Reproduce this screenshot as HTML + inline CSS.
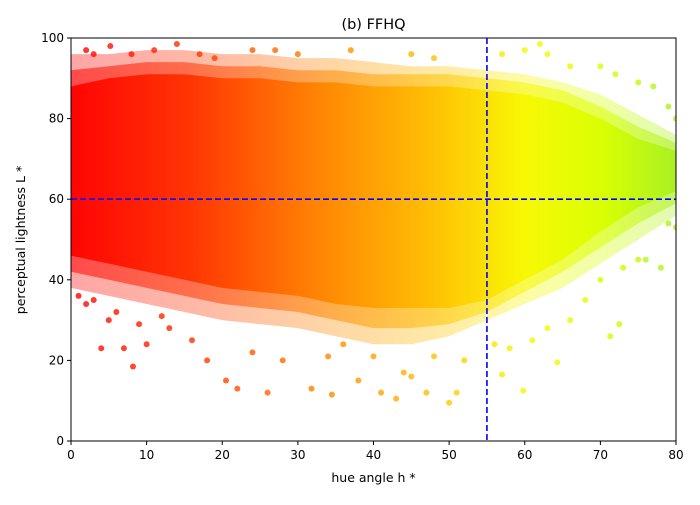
<!DOCTYPE html>
<html><head><meta charset="utf-8"><style>
body{margin:0;background:#fff;font-family:"Liberation Sans","DejaVu Sans",sans-serif}
svg text{font-family:"DejaVu Sans","Liberation Sans",sans-serif}
</style></head><body>
<svg id="chart" width="700" height="500" viewBox="0 0 700 500" xmlns="http://www.w3.org/2000/svg">
<defs>
<linearGradient id="hueGrad" gradientUnits="userSpaceOnUse" x1="71" y1="0" x2="676" y2="0">
<stop offset="0" stop-color="#ff0000"/>
<stop offset="0.2" stop-color="#ff3300"/>
<stop offset="0.4" stop-color="#ff8000"/>
<stop offset="0.6" stop-color="#ffc000"/>
<stop offset="0.75" stop-color="#f8f800"/>
<stop offset="0.88" stop-color="#d8ff00"/>
<stop offset="1" stop-color="#a8f020"/>
</linearGradient>
<clipPath id="plotClip"><rect x="71" y="38" width="605" height="403"/></clipPath>
</defs>
<g id="plot" clip-path="url(#plotClip)"></g>
<g id="axes"></g>
</svg>
<script>
// Envelope of point cloud (hue bin -> L range)
const hueBins = [0, 5, 10, 15, 20, 25, 30, 35, 40, 45, 50, 55, 60, 65, 70, 75, 80];
const outerLow = [38, 36, 34, 32, 30, 29, 28, 26, 24, 24, 26, 30, 34, 38, 44, 50, 56];
const outerHigh = [96, 96, 97, 97, 96, 96, 95, 95, 94, 93, 93, 92, 91, 89, 86, 81, 76];
const midLow = [42, 40, 38, 36, 34, 33, 32, 30, 28, 28, 29, 32, 37, 42, 48, 54, 59];
const midHigh = [92, 93, 94, 94, 93, 93, 92, 92, 91, 91, 91, 90, 89, 87, 83, 78, 74];
const coreLow = [46, 44, 42, 40, 38, 37, 36, 34, 33, 33, 33, 35, 40, 45, 52, 58, 62];
const coreHigh = [88, 90, 91, 91, 90, 90, 89, 89, 88, 88, 88, 87, 86, 84, 80, 75, 72];
// Sparse outliers and fringe points
const outHue = [4, 7, 8.2, 10, 20.5, 22, 26, 31.8, 34.5, 38, 41, 43, 45, 47, 50, 51, 57, 59.8, 64.3, 71.3, 72.5, 76, 79, 14, 62, 5.2, 1, 3, 9, 12,
  2, 3, 8, 11, 17, 19, 24, 27, 30, 37, 45, 48, 57, 60, 63, 66, 70, 72, 75, 77, 79, 80,
  2, 5, 6, 13, 16, 18, 24, 28, 34, 36, 40, 44, 48, 52, 56, 58, 61, 63, 66, 68, 70, 73, 75, 78, 80];
const outL = [23, 23, 18.5, 24, 15, 13, 12, 13, 11.5, 15, 12, 10.5, 16, 12, 9.5, 12, 16.5, 12.5, 19.5, 26, 29, 45, 54, 98.5, 98.5, 98, 36, 35, 29, 31,
  97, 96, 96, 97, 96, 95, 97, 97, 96, 97, 96, 95, 96, 97, 96, 93, 93, 91, 89, 88, 83, 80,
  34, 30, 32, 28, 25, 20, 22, 20, 21, 24, 21, 17, 21, 20, 24, 23, 25, 28, 30, 35, 40, 43, 45, 43, 53];
const xTicks = [0, 10, 20, 30, 40, 50, 60, 70, 80];
const yTicks = [0, 20, 40, 60, 80, 100];

const X0 = 71, X1 = 676, Y0 = 441, Y1 = 38;
const xs = v => X0 + (v / 80) * (X1 - X0);
const ys = v => Y0 - (v / 100) * (Y0 - Y1);
const NS = "http://www.w3.org/2000/svg";
const plot = document.getElementById('plot');
const axes = document.getElementById('axes');
function mk(tag, attrs, parent) {
  const e = document.createElementNS(NS, tag);
  for (const k in attrs) e.setAttribute(k, attrs[k]);
  parent.appendChild(e); return e;
}
function band(low, high) {
  let d = '';
  hueBins.forEach((h, i) => { d += (i ? 'L' : 'M') + xs(h) + ',' + ys(high[i]); });
  for (let i = hueBins.length - 1; i >= 0; i--) d += 'L' + xs(hueBins[i]) + ',' + ys(low[i]);
  return d + 'Z';
}
const outer = mk('path', {d: band(outerLow, outerHigh), fill: 'url(#hueGrad)', opacity: '0.35'}, plot);


const mid = mk('path', {d: band(midLow, midHigh), fill: 'url(#hueGrad)', opacity: '0.55'}, plot);


const core = mk('path', {d: band(coreLow, coreHigh), fill: 'url(#hueGrad)', opacity: '0.95'}, plot);


outHue.forEach((h, i) => {
  const c = mk('circle', {cx: xs(h), cy: ys(outL[i]), r: 3, fill: 'url(#hueGrad)', opacity: '0.8'}, plot);
  
  
});
const vl = mk('line', {x1: xs(55), x2: xs(55), y1: Y1, y2: Y0, stroke: '#0000ff', 'stroke-width': 1.6, 'stroke-dasharray': '6,3'}, axes);


const hl = mk('line', {x1: X0, x2: X1, y1: ys(60), y2: ys(60), stroke: '#0000ff', 'stroke-width': 1.6, 'stroke-dasharray': '6,3'}, axes);


const frame = mk('rect', {x: X0, y: Y1, width: X1 - X0, height: Y0 - Y1, fill: 'none', stroke: '#000', 'stroke-width': 1}, axes);


xTicks.forEach(t => {
  mk('line', {x1: xs(t), x2: xs(t), y1: Y0, y2: Y0 + 4, stroke: '#000'}, axes);
  const tx = mk('text', {x: xs(t), y: Y0 + 18, 'font-size': 12, 'text-anchor': 'middle'}, axes);
  tx.textContent = t;
  
  
});
yTicks.forEach(t => {
  mk('line', {x1: X0 - 4, x2: X0, y1: ys(t), y2: ys(t), stroke: '#000'}, axes);
  const tx = mk('text', {x: X0 - 7, y: ys(t) + 4, 'font-size': 12, 'text-anchor': 'end'}, axes);
  tx.textContent = t;
  
  
});
const title = mk('text', {x: 373.5, y: 29, 'font-size': 14.5, 'text-anchor': 'middle'}, axes);
title.textContent = '(b) FFHQ';


const xl = mk('text', {x: 373.5, y: 482, 'font-size': 12.5, 'text-anchor': 'middle'}, axes);
xl.textContent = 'hue angle h *';


const yl = mk('text', {x: 0, y: 0, 'font-size': 12.5, 'text-anchor': 'middle', transform: 'translate(25,240) rotate(-90)'}, axes);
yl.textContent = 'perceptual lightness L *';


</script>
</body></html>
